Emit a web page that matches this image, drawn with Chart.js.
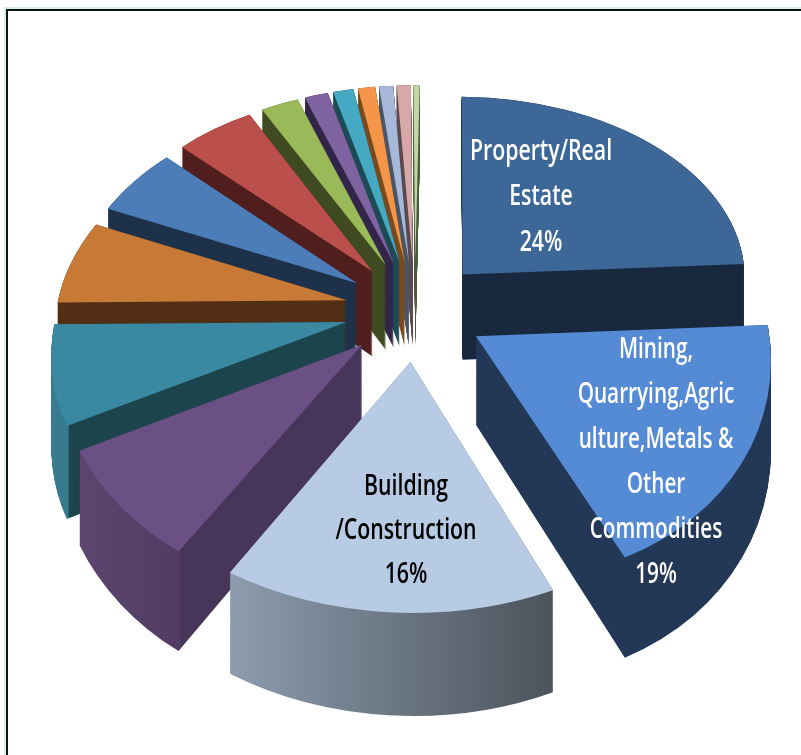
<!DOCTYPE html>
<html><head><meta charset="utf-8">
<script src="https://cdn.jsdelivr.net/npm/chart.js@4/dist/chart.umd.min.js"></script>
<style>
html,body{margin:0;padding:0;background:#fff;overflow:hidden;width:801px;height:755px}
#frame{position:absolute;left:6px;top:9px;width:900px;height:900px;border:2px solid #111;outline:2px solid #d8eeee}
canvas{position:absolute;left:0;top:0}
</style></head><body>
<div id="frame"></div>
<canvas id="c" width="801" height="755"></canvas>
<script>
const categories = ["Property/Real Estate","Mining, Quarrying, Agriculture, Metals & Other Commodities","Building /Construction","Sector 4","Sector 5","Sector 6","Sector 7","Sector 8","Sector 9","Sector 10","Sector 11","Sector 12","Sector 13","Sector 14","Sector 15"];
const values = [24,19,16,8.5,7.5,6.5,5.5,5,2.4,1.5,1.3,1.1,0.9,0.9,0.4];
const topColors = ["#3d6796","#558ad4","#b7cce4","#6a5084","#3a88a2","#c67a35","#4d7db9","#bb4f4c","#9aba59","#7f62a0","#46a9c4","#f4954a","#a7b8d8","#d6a8a8","#c3d6a5"];
const wallFar = ["#18293f","#233757","#8d9cae","#614873","#3a8298","#522e15","#1d314a","#4f1e1d","#3f4a20","#33254a","#1c4a55","#7a4a1f","#4a5568","#5a4a50","#4a5a3a"];
const wallNear = ["#18293f","#233757","#4c535c","#523c63","#37798c","#522e15","#1d314a","#4f1e1d","#3f4a20","#33254a","#1c4a55","#7a4a1f","#4a5568","#5a4a50","#4a5a3a"];
const wallRadial = ["#18293f","#233757","#4c535c","#48365a","#1c444c","#522e15","#1d314a","#4f1e1d","#3f4a20","#33254a","#1c4a55","#7a4a1f","#4a5568","#5a4a50","#4a5a3a"];
const sliceLabels = [["Property/Real","Estate"],["Mining,","Quarrying,Agric","ulture,Metals &","Other","Commodities"],["Building","/Construction"]];
const labelColors = ["#ffffff","#ffffff","#000000"];
const labelAnchors = [[541,152],[656,350],[406,487]];
const labelStep = [45.5,45,44];

const view = {cx:415, cy:310, tilt:0.72, persp:0.000437, radius:290, explode:70, depth:87};
function project(u,v,z){
  const w = 1/(1 - v*view.persp);
  return [view.cx + u*w, view.cy + v*view.tilt*w + z*w];
}
function sliceMatrix(arc,z){
  const m=(arc.startAngle+arc.endAngle)/2, half=(arc.endAngle-arc.startAngle)/2, d=Math.max(half,0.3);
  const Rs=arc.outerRadius, R=view.radius, E=view.explode;
  const ax=E*Math.cos(m), ay=E*Math.sin(m);
  const c1=Math.cos(m-d), s1=Math.sin(m-d), c2=Math.cos(m+d), s2=Math.sin(m+d);
  const D0=project(ax,ay,z), D1=project(ax+R*c1,ay+R*s1,z), D2=project(ax+R*c2,ay+R*s2,z);
  const e1=[Rs*c1,Rs*s1], e2=[Rs*c2,Rs*s2];
  const d1=[D1[0]-D0[0],D1[1]-D0[1]], d2=[D2[0]-D0[0],D2[1]-D0[1]];
  const det=e1[0]*e2[1]-e1[1]*e2[0];
  const a=(d1[0]*e2[1]-d2[0]*e1[1])/det, c=(d2[0]*e1[0]-d1[0]*e2[0])/det;
  const b=(d1[1]*e2[1]-d2[1]*e1[1])/det, dd=(d2[1]*e1[0]-d1[1]*e2[0])/det;
  return [a,b,c,dd,D0[0]-a*arc.x-c*arc.y,D0[1]-b*arc.x-dd*arc.y];
}
function paintArc(ctx,arc,color,z){
  const saved=arc.options;
  arc.options={backgroundColor:color,borderColor:color,borderWidth:0,borderRadius:0,borderAlign:'center',offset:0,spacing:0,circular:true};
  ctx.setTransform(...sliceMatrix(arc,z));
  arc.draw(ctx);
  ctx.setTransform(1,0,0,1,0,0);
  arc.options=saved;
}
const pie3d={
  id:'pie3d',
  beforeDatasetDraw(chart){
    const ctx=chart.ctx, meta=chart.getDatasetMeta(0), W=chart.width, H=chart.height;
    const order=meta.data.map((a,i)=>i).sort((p,q)=>{
      const ap=meta.data[p], aq=meta.data[q];
      return Math.sin((ap.startAngle+ap.endAngle)/2)-Math.sin((aq.startAngle+aq.endAngle)/2);
    });
    const off=document.createElement('canvas'); off.width=W; off.height=H;
    const o=off.getContext('2d');
    for(const i of order){
      const arc=meta.data[i];
      const m=(arc.startAngle+arc.endAngle)/2;
      o.setTransform(1,0,0,1,0,0); o.globalCompositeOperation='source-over'; o.clearRect(0,0,W,H);
      for(let z=view.depth;z>=0;z-=0.75) paintArc(o,arc,'#000',z);
      const pS=project(view.explode*Math.cos(m)+view.radius*Math.cos(arc.startAngle),view.explode*Math.sin(m)+view.radius*Math.sin(arc.startAngle),0);
      const pE=project(view.explode*Math.cos(m)+view.radius*Math.cos(arc.endAngle),view.explode*Math.sin(m)+view.radius*Math.sin(arc.endAngle),0);
      let g;
      if(Math.cos(m)>=-0.1){
        g=o.createLinearGradient(Math.min(pS[0],pE[0]),0,Math.max(pS[0],pE[0]),0);
        g.addColorStop(0,wallFar[i]); g.addColorStop(1,wallNear[i]);
      }else{
        const x0=Math.min(pS[0],pE[0])-40, x1=pS[0]+2, x2=W;
        g=o.createLinearGradient(x0,0,x2,0);
        const t=(x1-x0)/(x2-x0);
        g.addColorStop(0,wallFar[i]); g.addColorStop(t,wallNear[i]);
        g.addColorStop(Math.min(1,t+0.0005),wallRadial[i]); g.addColorStop(1,wallRadial[i]);
      }
      o.globalCompositeOperation='source-in';
      o.fillStyle=g; o.fillRect(0,0,W,H);
      o.globalCompositeOperation='source-over';
      ctx.save(); ctx.setTransform(1,0,0,1,0,0);
      ctx.drawImage(off,0,0);
      ctx.restore();
      ctx.save();
      paintArc(ctx,arc,topColors[i],0);
      ctx.restore();
    }
    return false;
  },
  afterDraw(chart){
    const ctx=chart.ctx;
    ctx.save();
    ctx.textAlign='center'; ctx.textBaseline='middle';
    ctx.font='600 28px "Open Sans"';
    sliceLabels.forEach((lines,i)=>{
      ctx.fillStyle=labelColors[i];
      const all=lines.concat([values[i]+'%']);
      all.forEach((t,k)=>{
        ctx.save();
        ctx.translate(labelAnchors[i][0],labelAnchors[i][1]+k*labelStep[i]);
        ctx.scale(i===1?0.74:0.76,1);
        ctx.fillText(t,0,0);
        ctx.restore();
      });
    });
    ctx.restore();
  }
};
new Chart(document.getElementById('c'),{
  type:'pie',
  data:{labels:categories,datasets:[{data:values,backgroundColor:topColors,borderWidth:0}]},
  options:{responsive:false,animation:false,rotation:1,layout:{padding:0},
    plugins:{legend:{display:false},tooltip:{enabled:false}}},
  plugins:[pie3d]
});
</script>
</body></html>
